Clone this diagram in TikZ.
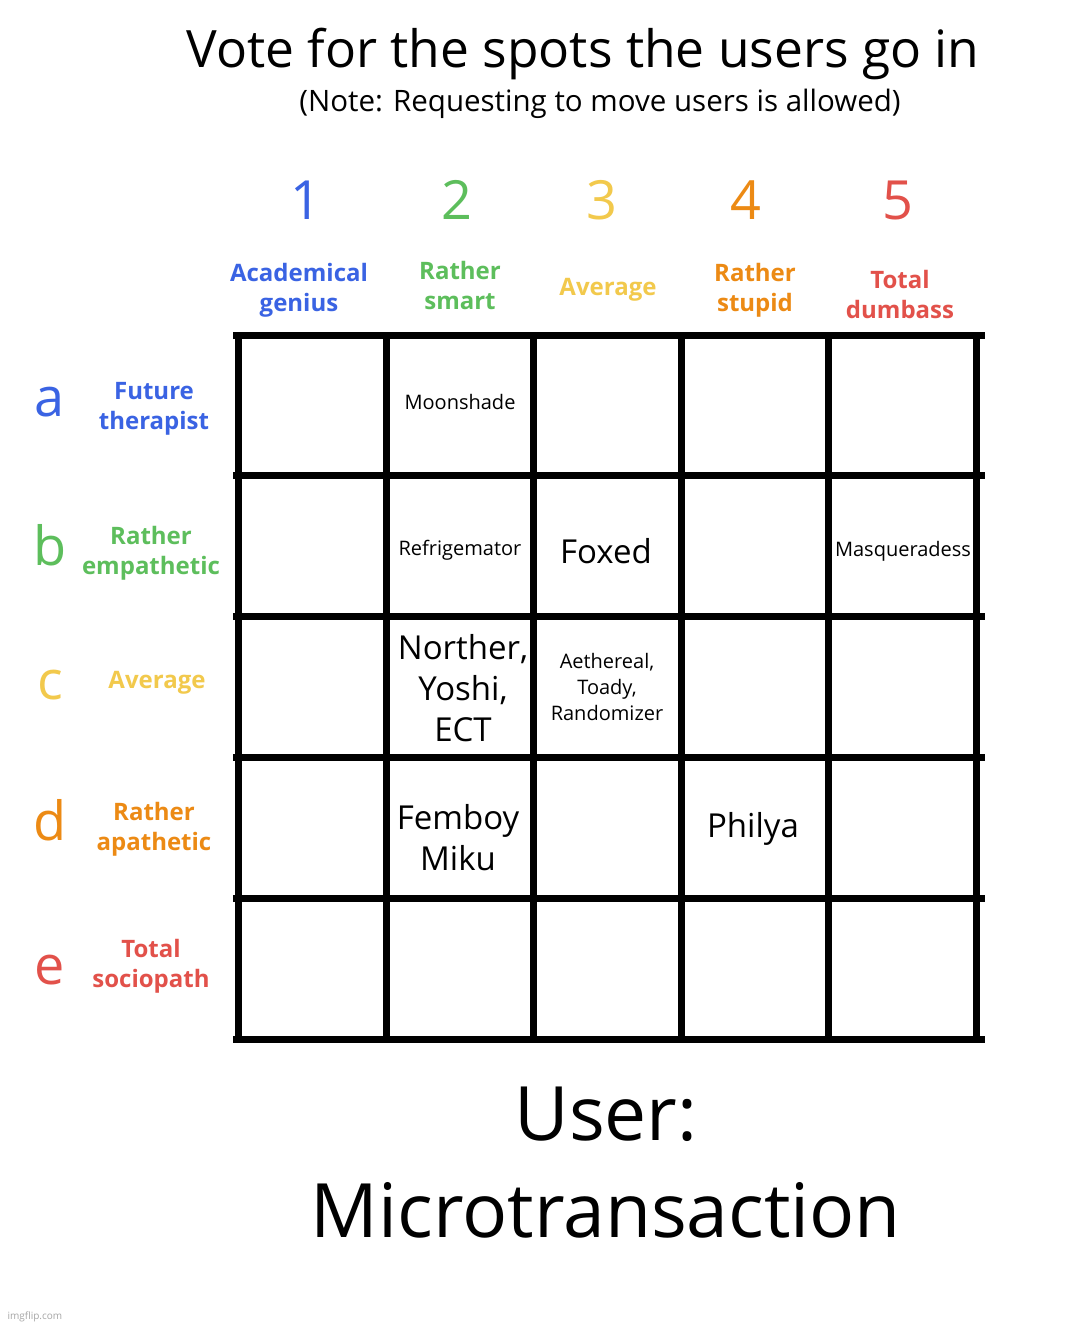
\documentclass[tikz,border=0pt]{standalone}
\usepackage{fontspec}
\setmainfont{Open Sans}
\definecolor{cb}{HTML}{3A63E3}
\definecolor{cg}{HTML}{5DBE5C}
\definecolor{cy}{HTML}{F2C94C}
\definecolor{co}{HTML}{EC8A14}
\definecolor{cr}{HTML}{E2514A}
\tikzset{lab/.style={font=\fontsize{24}{30}\selectfont\bfseries,align=center},
num/.style={font=\fontsize{54}{60}\selectfont},
cell/.style={font=\fontsize{20}{26}\selectfont,align=center},
big/.style={font=\fontsize{33}{41}\selectfont,align=center},
gl/.style={line width=7pt}}
\begin{document}
\begin{tikzpicture}[x=1pt,y=-1pt]
\useasboundingbox[fill=white] (0,0) rectangle (1083,1327);
\node[font=\fontsize{51.5}{55}\selectfont] (t) at (583,54) {Vote for the spots the users go in};
\node[font=\fontsize{29.5}{32}\selectfont] (st) at (600,104) {(Note: Requesting to move users is allowed)};
% column numbers
\node[num,cb] (n1) at (306,200) {1};
\node[num,cg] (n2) at (457,200) {2};
\node[num,cy] (n3) at (602,200) {3};
\node[num,co] (n4) at (746,200) {4};
\node[num,cr] (n5) at (898,200) {5};
\node[lab,cb] (c1) at (299,290) {Academical\\genius};
\node[lab,cg] (c2) at (460,285) {Rather\\smart};
\node[lab,cy] (c3) at (608,290) {Average};
\node[lab,co] (c4) at (755,290) {Rather\\stupid};
\node[lab,cr] (c5) at (900,294) {Total\\dumbass};
% row letters
\node[num,cb] (ra) at (50,402) {a};
\node[num,cg] (rb) at (50,545) {b};
\node[num,cy] (rc) at (50,685) {c};
\node[num,co] (rd) at (50,820) {d};
\node[num,cr] (re) at (50,970) {e};
\node[lab,cb] (la) at (154,409) {Future\\therapist};
\node[lab,cg] (lb) at (151,553) {Rather\\empathetic};
\node[lab,cy] (lc) at (157,683) {Average};
\node[lab,co] (ld) at (154,829) {Rather\\apathetic};
\node[lab,cr] (le) at (151,966) {Total\\sociopath};
% grid
\foreach \x in {238,386,533,681,828,976} \draw[gl] (\x,332) -- (\x,1042);
\foreach \y in {335,475,616,757,898,1039} \draw[gl] (233,\y) -- (985,\y);
% cells
\node[cell] (m) at (460,402) {Moonshade};
\node[cell] (r) at (460,550) {Refrigemator};
\node[big] (f) at (606,551) {Foxed};
\node[cell] (ms) at (903,551) {Masqueradess};
\node[big] (n) at (463,688) {Norther,\\Yoshi,\\ECT};
\node[cell] (ae) at (607,687) {Aethereal,\\Toady,\\Randomizer};
\node[big] (fm) at (458,838) {Femboy\\Miku};
\node[big] (p) at (753,829) {Philya};
\node[font=\fontsize{75}{80}\selectfont] (u) at (606,1114) {User:};
\node[font=\fontsize{75}{80}\selectfont] (mt) at (606,1210) {Microtransaction};
\node[font=\fontsize{10}{12}\selectfont,gray!70,anchor=west] (w) at (4,1317) {imgflip.com};
\end{tikzpicture}
\end{document}
